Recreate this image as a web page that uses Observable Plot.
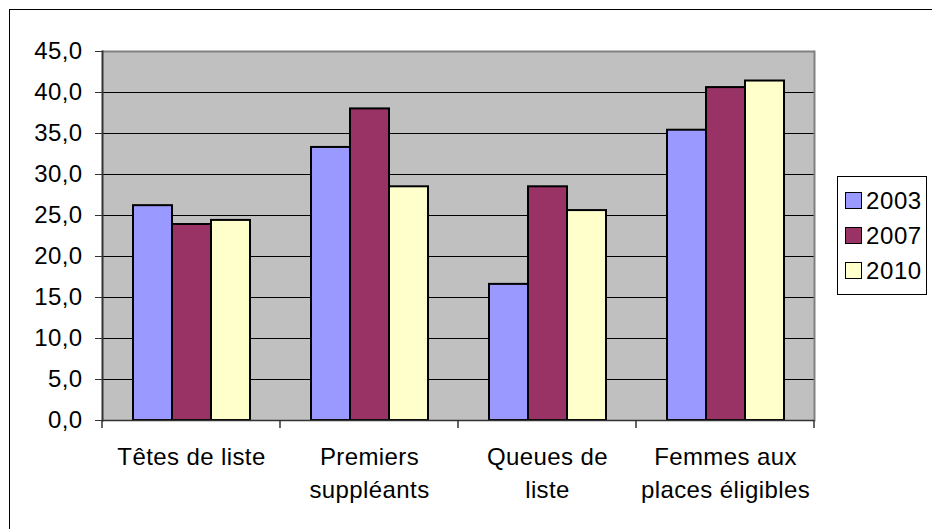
<!DOCTYPE html>
<html><head><meta charset="utf-8">
<script src="https://cdn.jsdelivr.net/npm/d3@7"></script>
<script src="https://cdn.jsdelivr.net/npm/@observablehq/plot@0.6"></script>
<style>
html,body{margin:0;padding:0;background:#fff;overflow:hidden;width:932px;height:529px}
#wrap{position:relative;width:932px;height:529px}
#border{position:absolute;left:9px;top:9px;width:960px;height:560px;border:1px solid #000;box-sizing:border-box}
#chart{position:absolute;left:0;top:0}
#legend{position:absolute;left:837px;top:176px;width:90px;height:119px;border:1px solid #000;box-sizing:border-box;background:#fff;font-family:"Liberation Sans",Arial,sans-serif;font-size:24px;letter-spacing:0.6px;padding-top:6px}
.item{display:flex;align-items:center;height:35px}
.sw{width:17px;height:17px;border:1.5px solid #000;margin:0 4px 0 7px;box-sizing:border-box}
</style></head>
<body>
<div id="wrap"><div id="border"></div><div id="chart"></div><div id="legend"></div></div>
<script>
const categories = ["Têtes de liste", "Premiers suppléants", "Queues de liste", "Femmes aux places éligibles"];
const categoryLabels = ["Têtes de liste", "Premiers\nsuppléants", "Queues de\nliste", "Femmes aux\nplaces éligibles"];
const years = ["2003", "2007", "2010"];
const values2003 = [26.2, 33.3, 16.6, 35.4];
const values2007 = [23.9, 38.0, 28.5, 40.6];
const values2010 = [24.4, 28.5, 25.6, 41.4];
const colors = ["#9999ff", "#993366", "#ffffcc"];
const yTicks = [0, 5, 10, 15, 20, 25, 30, 35, 40, 45];

const series = [values2003, values2007, values2010];
const data = categories.flatMap((c, i) => years.map((y, j) => ({category: c, year: y, value: series[j][i]})));

const chart = Plot.plot({
  width: 932, height: 529,
  marginLeft: 101, marginRight: 117, marginTop: 51, marginBottom: 109,
  style: {fontFamily: "Liberation Sans, Arial, sans-serif", fontSize: "24px", color: "#000", background: "transparent", letterSpacing: "0.4px"},
  fx: {domain: categories, padding: 0, label: null, axis: null},
  x: {domain: years, paddingInner: 0, paddingOuter: 0.77, axis: null},
  y: {domain: [0, 45], label: null, axis: null},
  color: {domain: years, range: colors},
  marks: [
    Plot.frame({fill: "#c0c0c0", facet: "super"}),
    Plot.ruleY(yTicks.filter(t => t > 0 && t < 45), {stroke: "#000", strokeWidth: 1}),
    Plot.ruleY([45], {stroke: "#808080", strokeWidth: 2}),
    Plot.frame({anchor: "right", facet: "super", stroke: "#808080", strokeWidth: 2}),
    Plot.barY(data, {fx: "category", x: "year", y: "value", fill: "year", stroke: "#000", strokeWidth: 2}),
    Plot.ruleY([0], {stroke: "#333", strokeWidth: 1.5}),
    Plot.frame({anchor: "left", facet: "super", stroke: "#333", strokeWidth: 2}),
    Plot.axisY({ticks: yTicks, tickSize: 7, tickPadding: 13, stroke: "#333",
      tickFormat: d => d.toFixed(1).replace(".", ","), fontSize: 24, label: null}),
    Plot.axisFx({anchor: "bottom", tickSize: 0, tickPadding: 21, fontSize: 24, lineHeight: 1.38, label: null,
      tickFormat: c => categoryLabels[categories.indexOf(c)]})
  ]
});
document.getElementById("chart").appendChild(chart);

// category boundary ticks on the x axis, placed with Plot's own scales
const fx = chart.scale("fx"), ys = chart.scale("y");
const y0 = ys.apply(0);
const bounds = categories.map(c => fx.apply(c)).concat([fx.apply(categories[categories.length - 1]) + fx.bandwidth]);
d3.select(chart).append("g").selectAll("line").data(bounds).join("line")
  .attr("x1", d => d).attr("x2", d => d).attr("y1", y0).attr("y2", y0 + 8)
  .attr("stroke", "#333").attr("stroke-width", 1.5);

const legend = d3.select("#legend");
years.forEach((y, i) => {
  const item = legend.append("div").attr("class", "item");
  item.append("div").attr("class", "sw").style("background", colors[i]);
  item.append("span").text(y);
});
</script>
</body></html>
